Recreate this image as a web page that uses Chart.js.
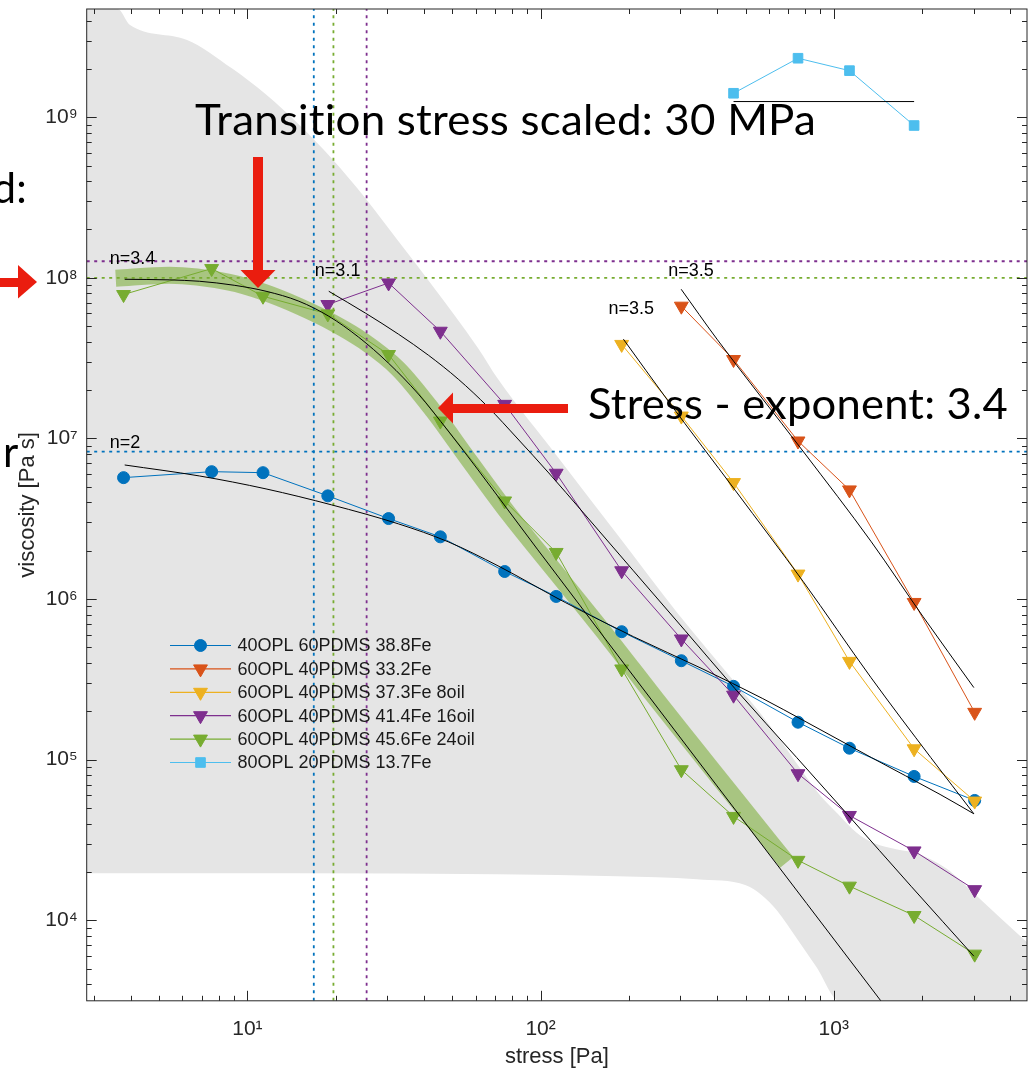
<!DOCTYPE html>
<html><head><meta charset="utf-8">
<script src="https://cdn.jsdelivr.net/npm/chart.js@4/dist/chart.umd.min.js"></script>
<style>html,body{margin:0;padding:0;background:#fff;overflow:hidden}canvas{display:block}</style>
</head><body>
<canvas id="c" width="1036" height="1070"></canvas>
<script>
// ---------- axis ranges & tick labels ----------
const xRange = [2.83, 4560];
const yRange = [3150, 4.72e9];
const xMajorTicks = [10, 100, 1000];
const xTickLabels = ['10\u00B9', '10\u00B2', '10\u00B3'];
const yMajorTicks = [1e4, 1e5, 1e6, 1e7, 1e8, 1e9];
const yTickLabels = ['10\u2074', '10\u2075', '10\u2076', '10\u2077', '10\u2078', '10\u2079'];

// ---------- series ----------
const seriesNames = ['40OPL 60PDMS 38.8Fe', '60OPL 40PDMS 33.2Fe', '60OPL 40PDMS 37.3Fe 8oil',
  '60OPL 40PDMS 41.4Fe 16oil', '60OPL 40PDMS 45.6Fe 24oil', '80OPL 20PDMS 13.7Fe'];
const stressBlue = [3.78, 7.55, 11.3, 18.8, 30.3, 45.5, 75.4, 113, 189, 302, 455, 755, 1131, 1879, 3023];
const viscBlue = [5.70e6, 6.21e6, 6.12e6, 4.39e6, 3.17e6, 2.44e6, 1.484e6, 1.038e6, 6.26e5, 4.13e5, 2.86e5, 1.71e5, 1.178e5, 7.86e4, 5.57e4];
const stressOrange = [302, 455, 755, 1131, 1879, 3023];
const viscOrange = [6.66e7, 3.10e7, 9.64e6, 4.78e6, 9.52e5, 1.97e5];
const stressYellow = [189, 302, 455, 755, 1131, 1879, 3023];
const viscYellow = [3.85e7, 1.378e7, 5.31e6, 1.43e6, 4.09e5, 1.168e5, 5.52e4];
const stressPurple = [18.8, 30.3, 45.5, 75.4, 113, 189, 302, 455, 755, 1131, 1879, 3023];
const viscPurple = [6.82e7, 9.29e7, 4.65e7, 1.63e7, 6.07e6, 1.50e6, 5.64e5, 2.52e5, 8.17e4, 4.49e4, 2.70e4, 1.55e4];
const stressGreen = [3.78, 7.55, 11.3, 18.8, 30.3, 45.5, 75.4, 113, 189, 302, 455, 755, 1131, 1879, 3023];
const viscGreen = [7.87e7, 1.142e8, 7.68e7, 5.96e7, 3.33e7, 1.283e7, 4.08e6, 1.95e6, 3.67e5, 8.65e4, 4.43e4, 2.36e4, 1.63e4, 1.07e4, 6.15e3];
const stressLightBlue = [455, 755, 1131, 1879];
const viscLightBlue = [1.41e9, 2.33e9, 1.95e9, 8.88e8];
const refLineX = [455, 1879];
const refLineY = [1.252e9, 1.252e9];

// ---------- fitted curves ----------
const fit34X = [3.814, 5.409, 6.855, 9.012, 11.575, 14.98, 18.94, 23.95, 30.28, 38.29, 48.41, 61.21, 77.37, 97.83, 1633];
const fit34Y = [9.796e7, 9.712e7, 9.520e7, 8.99e7, 8.249e7, 7.152e7, 5.768e7, 4.271e7, 2.943e7, 1.889e7, 1.112e7, 6.364e6, 3.589e6, 2.025e6, 2356];
const fit31X = [18.94, 25.30, 32.74, 41.40, 52.35, 66.19, 83.67, 106.6, 139.1, 207.3, 311.2, 460.0, 747.0, 1113.3, 1835.4, 3004];
const fit31Y = [8.249e7, 6.021e7, 4.459e7, 3.301e7, 2.341e7, 1.568e7, 9.917e6, 6.096e6, 3.487e6, 1.499e6, 6.350e5, 2.769e5, 1.031e5, 4.560e4, 1.627e4, 5.974e3];
const fit2X = [3.814, 6.855, 11.575, 19.39, 32.74, 48.41, 71.55, 121.8, 207.3, 355.4, 572.6, 789.0, 1342.7, 2303.8, 3004];
const fit2Y = [6.835e6, 5.840e6, 4.849e6, 3.855e6, 2.938e6, 2.271e6, 1.610e6, 9.482e5, 5.830e5, 3.686e5, 2.399e5, 1.751e5, 1.031e5, 6.072e4, 4.6e4];
const fit35aX = [191.6, 272.4, 462.6, 787.2, 1339.5, 2141.5, 3004];
const fit35aY = [4.150e7, 1.709e7, 4.712e6, 1.281e6, 3.240e5, 1.031e5, 4.6e4];
const fit35bX = [301.6, 399.6, 789.0, 1342.7, 2016.3, 3004];
const fit35bY = [8.489e7, 4.150e7, 8.234e6, 2.271e6, 7.761e5, 2.809e5];

// ---------- highlighted band ----------
const bandX = [3.555, 5.409, 8.667, 11.396, 14.98, 19.70, 24.91, 32.74, 43.05, 56.58, 77.37, 114.4, 169.1, 250.0, 341.8, 467.3, 690.9];
const bandY = [9.937e7, 1.037e8, 9.384e7, 8.132e7, 6.657e7, 5.219e7, 4.033e7, 2.701e7, 1.481e7, 7.449e6, 3.439e6, 1.416e6, 5.830e5, 2.332e5, 1.140e5, 5.572e4, 2.294e4];

// ---------- shaded region boundaries ----------
const shadeUpX = [2.83, 3.611, 3.966, 6.193, 8.873, 11.575, 14.98, 19.39, 25.30, 32.74, 42.38, 61.21, 71.55, 114.4, 182.9, 292.4, 463.7, 604.9, 777.1, 887.4, 1029.3, 1194.0, 1374.8, 1633.0, 1909.5, 2414.0, 3004, 3710, 4560];
const shadeUpY = [4.72e9, 4.72e9, 3.770e9, 3.041e9, 2.008e9, 1.384e9, 9.009e8, 5.537e8, 3.123e8, 1.688e8, 9.120e7, 3.648e7, 2.341e7, 7.666e6, 2.510e6, 8.216e5, 2.974e5, 1.630e5, 8.560e4, 6.160e4, 4.626e4, 3.524e4, 3.011e4, 2.763e4, 2.609e4, 2.105e4, 1.472e4, 1.029e4, 7.298e3];
const shadeLoX = [2.83, 14.98, 71.55, 182.9, 341.8, 501.4, 568.2, 639.0, 747.0, 873.6, 1045.6, 4560];
const shadeLoY = [1.960e4, 1.960e4, 1.932e4, 1.877e4, 1.798e4, 1.650e4, 1.430e4, 1.154e4, 7.729e3, 5.102e3, 3150, 3150];

// ---------- reference (dotted) levels ----------
const vLineX = [16.84, 19.65, 25.5];
const hLineY = [1.268e8, 1.0e8, 8.27e6];

// ---------- in-plot labels ----------
const nLabelText = ['n=3.4', 'n=3.1', 'n=2', 'n=3.5', 'n=3.5'];
const nLabelX = [3.39, 16.98, 3.39, 272.4, 170.4];
const nLabelY = [1.214e8, 1.023e8, 8.72e6, 1.023e8, 5.935e7];

const C = {blue:'#0072BD', orange:'#D95319', yellow:'#EDB120', purple:'#7E2F8E', green:'#77AC30', lblue:'#4DBEEE'};

function pts(xs, ys) { return xs.map((x, i) => ({x: x, y: ys[i]})); }

const datasets = [];
datasets.push({label:'shade', data: pts(shadeLoX, shadeLoY), showLine:true, fill:'end', backgroundColor:'#e5e5e5', borderColor:'rgba(0,0,0,0)', borderWidth:0, pointRadius:0, cubicInterpolationMode:'monotone', order:100, clip:0});
datasets.push({label:'mask', data: pts(shadeUpX, shadeUpY), showLine:true, fill:'end', backgroundColor:'#ffffff', borderColor:'rgba(0,0,0,0)', borderWidth:0, pointRadius:0, cubicInterpolationMode:'monotone', order:99, clip:0});
datasets.push({label:'band', data: pts(bandX, bandY), showLine:true, fill:false, borderColor:'rgba(119,172,48,0.55)', borderWidth:17, borderCapStyle:'butt', borderJoinStyle:'round', cubicInterpolationMode:'monotone', pointRadius:0, order:98, clip:0});
const vCols = [C.blue, C.green, C.purple];
vLineX.forEach((v, i) => datasets.push({label:'v'+i, data:[{x:v, y:yRange[0]}, {x:v, y:yRange[1]}], showLine:true, borderColor:vCols[i], borderWidth:1.8, borderDash:[3, 4.5], pointRadius:0, fill:false, order:90, clip:0}));
const hCols = [C.purple, C.green, C.blue];
hLineY.forEach((v, i) => datasets.push({label:'h'+i, data:[{x:xRange[0], y:v}, {x:xRange[1], y:v}], showLine:true, borderColor:hCols[i], borderWidth:1.8, borderDash:[3, 4.5], pointRadius:0, fill:false, order:90, clip:0}));

function series(name, xs, ys, col, style, r, order) {
  return {label:name, data: pts(xs, ys), showLine:true, fill:false, borderColor:col, backgroundColor:col,
    borderWidth:1, pointStyle:style, pointRotation: style === 'triangle' ? 180 : 0, pointRadius:r,
    pointBorderWidth:1, pointBorderColor:col, pointBackgroundColor:col, order:order};
}
const legendItems = [
  series(seriesNames[0], stressBlue, viscBlue, C.blue, 'circle', 6, 16),
  series(seriesNames[1], stressOrange, viscOrange, C.orange, 'triangle', 8, 15),
  series(seriesNames[2], stressYellow, viscYellow, C.yellow, 'triangle', 8, 14),
  series(seriesNames[3], stressPurple, viscPurple, C.purple, 'triangle', 8, 13),
  series(seriesNames[4], stressGreen, viscGreen, C.green, 'triangle', 8, 12),
  series(seriesNames[5], stressLightBlue, viscLightBlue, C.lblue, 'rect', 6.8, 11)
];
legendItems.forEach(d => datasets.push(d));

function fitLine(label, xs, ys) {
  return {label:label, data: pts(xs, ys), showLine:true, fill:false, borderColor:'#000', borderWidth:1,
    pointRadius:0, cubicInterpolationMode:'monotone', order:5, clip:0};
}
datasets.push(fitLine('fit34', fit34X, fit34Y));
datasets.push(fitLine('fit31', fit31X, fit31Y));
datasets.push(fitLine('fit2', fit2X, fit2Y));
datasets.push(fitLine('fit35a', fit35aX, fit35aY));
datasets.push(fitLine('fit35b', fit35bX, fit35bY));
datasets.push(fitLine('ref', refLineX, refLineY));

// ---------- helpers ----------
function drawMarker(ctx, style, x, y, r, col) {
  ctx.save();
  ctx.fillStyle = col; ctx.strokeStyle = col; ctx.lineWidth = 1;
  ctx.beginPath();
  if (style === 'circle') { ctx.arc(x, y, r, 0, Math.PI * 2); }
  else if (style === 'triangle') {
    for (let k = 0; k < 3; k++) {
      const a = Math.PI + k * 2 * Math.PI / 3;
      const px = x + Math.sin(a) * r, py = y - Math.cos(a) * r;
      if (k === 0) ctx.moveTo(px, py); else ctx.lineTo(px, py);
    }
    ctx.closePath();
  } else { const s = r * Math.SQRT1_2; ctx.rect(x - s, y - s, 2 * s, 2 * s); }
  ctx.fill(); ctx.stroke();
  ctx.restore();
}

const axisDecor = {
  id: 'axisDecor',
  afterDatasetsDraw(chart) {
    const {ctx, chartArea: a, scales: {x, y}} = chart;
    ctx.save();
    ctx.strokeStyle = '#262626'; ctx.lineWidth = 1;
    const logTicks = (min, max) => {
      const out = [];
      for (let e = Math.floor(Math.log10(min)); e <= Math.ceil(Math.log10(max)); e++)
        for (let k = 1; k <= 9; k++) { const v = k * Math.pow(10, e); if (v >= min && v <= max) out.push({v: v, major: k === 1}); }
      return out;
    };
    ctx.beginPath();
    logTicks(xRange[0], xRange[1]).forEach(t => {
      const px = Math.round(x.getPixelForValue(t.v)) + 0.5, L = t.major ? 10 : 5;
      ctx.moveTo(px, a.bottom); ctx.lineTo(px, a.bottom - L);
      ctx.moveTo(px, a.top); ctx.lineTo(px, a.top + L);
    });
    logTicks(yRange[0], yRange[1]).forEach(t => {
      const py = Math.round(y.getPixelForValue(t.v)) + 0.5, L = t.major ? 10 : 5;
      ctx.moveTo(a.left, py); ctx.lineTo(a.left + L, py);
      ctx.moveTo(a.right, py); ctx.lineTo(a.right - L, py);
    });
    ctx.stroke();
    ctx.strokeRect(a.left, a.top, a.right - a.left, a.bottom - a.top);
    ctx.restore();
  }
};

function fitText(ctx, text, x, base, width) {
  const w = ctx.measureText(text).width;
  ctx.save(); ctx.translate(x, base); ctx.scale(width / w, 1); ctx.fillText(text, 0, 0); ctx.restore();
}
function tri(ctx, p) { ctx.beginPath(); ctx.moveTo(p[0], p[1]); ctx.lineTo(p[2], p[3]); ctx.lineTo(p[4], p[5]); ctx.closePath(); ctx.fill(); }

const overlay = {
  id: 'overlay',
  afterDraw(chart) {
    const {ctx, scales: {x, y}} = chart;
    ctx.save();
    // legend
    ctx.font = '18px "Liberation Sans", Arial, sans-serif';
    ctx.textBaseline = 'middle'; ctx.textAlign = 'left';
    legendItems.forEach((d, i) => {
      const ry = 645.5 + i * 23.4;
      ctx.strokeStyle = d.borderColor; ctx.lineWidth = 1.2;
      ctx.beginPath(); ctx.moveTo(170, ry); ctx.lineTo(231, ry); ctx.stroke();
      drawMarker(ctx, d.pointStyle, 200.5, ry, d.pointRadius, d.borderColor);
      ctx.fillStyle = '#1a1a1a';
      ctx.fillText(d.label, 237.5, ry + 1);
    });
    // n labels
    ctx.fillStyle = '#000'; ctx.textBaseline = 'alphabetic';
    nLabelText.forEach((t, i) => ctx.fillText(t, x.getPixelForValue(nLabelX[i]), y.getPixelForValue(nLabelY[i])));
    // big slide texts
    ctx.font = '42px Lato, "Open Sans", sans-serif';
    if ('letterSpacing' in ctx) ctx.letterSpacing = '0.2px';
    fitText(ctx, 'Transition stress scaled: 30 MPa', 195, 135, 621);
    fitText(ctx, 'Stress - exponent: 3.4', 588, 419, 420);
    ctx.textAlign = 'right'; ctx.fillText('d:', 27, 203);
    ctx.textAlign = 'left'; ctx.fillText('r', 3, 467);
    // red arrows
    ctx.fillStyle = '#ea1d0f';
    ctx.fillRect(253, 157, 10, 114);
    tri(ctx, [240.5, 270, 275.5, 270, 258, 288]);
    ctx.fillRect(452, 404, 116, 9);
    tri(ctx, [453, 392.5, 453, 423.5, 438, 408]);
    ctx.fillRect(0, 278, 20, 9);
    tri(ctx, [18, 265, 18, 298.5, 37, 282]);
    ctx.restore();
  }
};

Chart.defaults.font.family = '"Liberation Sans", Arial, sans-serif';
new Chart(document.getElementById('c'), {
  type: 'scatter',
  data: { datasets: datasets },
  options: {
    responsive: false, animation: false, devicePixelRatio: 1,
    layout: { padding: { left: 0, right: 4.7, top: 7.3, bottom: 0 } },
    plugins: { legend: { display: false }, tooltip: { enabled: false } },
    scales: {
      x: {
        type: 'logarithmic', position: 'bottom', min: xRange[0], max: xRange[1],
        grid: { display: false, drawTicks: false }, border: { display: false },
        ticks: { autoSkip: false, maxRotation: 0, minRotation: 0, font: { size: 21 }, color: '#262626', padding: 16,
          callback: (v, i) => xTickLabels[i] },
        afterBuildTicks: s => { s.ticks = xMajorTicks.map(v => ({ value: v })); },
        afterFit: s => { s.height = 1070 - 1000.8; s.paddingLeft = 0; s.paddingRight = 0; },
        title: { display: true, text: 'stress [Pa]', font: { size: 22 }, color: '#262626', padding: { top: 0, bottom: 0 } }
      },
      y: {
        type: 'logarithmic', position: 'left', min: yRange[0], max: yRange[1],
        grid: { display: false, drawTicks: false }, border: { display: false },
        ticks: { autoSkip: false, font: { size: 21 }, color: '#262626', padding: 9,
          callback: (v, i) => yTickLabels[i] },
        afterBuildTicks: s => { s.ticks = yMajorTicks.map(v => ({ value: v })); },
        afterFit: s => { s.width = 86.7; s.paddingTop = 0; s.paddingBottom = 0; },
        title: { display: true, text: 'viscosity [Pa s]', font: { size: 22 }, color: '#262626', padding: { top: 15, bottom: 0 } }
      }
    }
  },
  plugins: [axisDecor, overlay]
});
</script>
</body></html>
